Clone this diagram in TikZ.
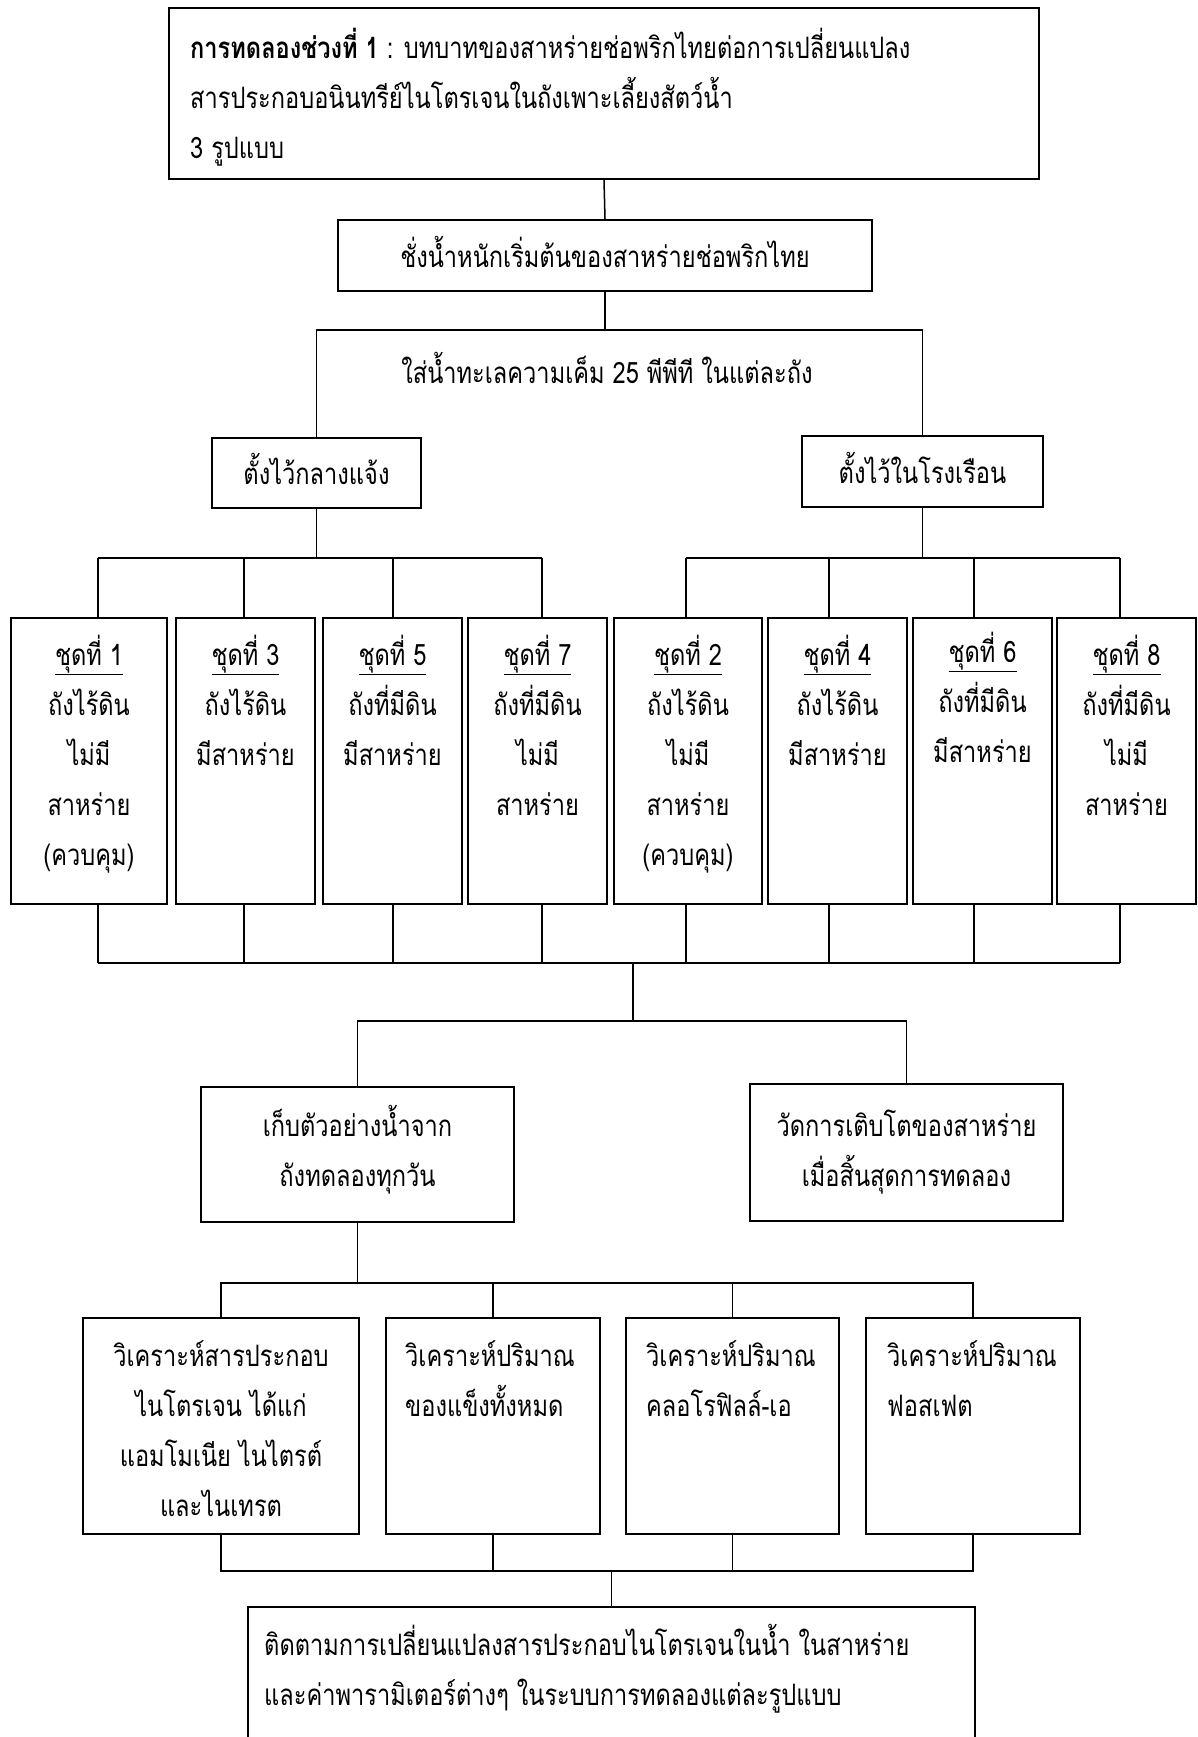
\documentclass[tikz,border=0pt]{standalone}
\usepackage{fontspec}
\newfontfamily\thaifont[Script=Thai, FakeStretch=0.8]{Loma}
\usetikzlibrary{calc}
\newcommand\fl{\rule{0pt}{36pt}}
\begin{document}
\begin{tikzpicture}[x=1pt,y=-1pt,
  box/.style={draw, line width=2.2pt, inner sep=0pt},
  conn/.style={line width=1.5pt},
  txt/.style={inner sep=0pt, align=center, font=\thaifont\fontsize{29.5}{50}\selectfont},
]
\useasboundingbox[fill=white] (0,0) rectangle (1198,1737);
% boxes
\node[box, minimum width=870pt, minimum height=171pt] (top) at (604,93.5) {};
\node[box, minimum width=534pt, minimum height=71pt] (wgt) at (605,255.5) {};
\node[box, minimum width=209pt, minimum height=70pt] (outL) at (316.5,473) {};
\node[box, minimum width=241pt, minimum height=71pt] (outR) at (922.5,471.5) {};
\foreach \n/\cx/\w in {s1/89/156, s3/245.5/139, s5/392.5/139, s7/537.5/139, s2/688/148, s4/837.5/139, s6/982.5/139, s8/1126.5/139}
  {\node[box, minimum width=\w pt, minimum height=286pt] (\n) at (\cx,761) {};}
\node[box, minimum width=313pt, minimum height=135pt] (smp) at (357.5,1154.5) {};
\node[box, minimum width=313pt, minimum height=137pt] (grw) at (906.5,1152.5) {};
\node[box, minimum width=276pt, minimum height=216pt] (aA) at (221,1426) {};
\node[box, minimum width=214pt, minimum height=216pt] (aB) at (493,1426) {};
\node[box, minimum width=213pt, minimum height=216pt] (aC) at (732.5,1426) {};
\node[box, minimum width=214pt, minimum height=216pt] (aD) at (973,1426) {};
\node[box, minimum width=727pt, minimum height=153pt] (fin) at (611.5,1683.5) {};
% texts
\node[txt, align=left, anchor=north west] (ttop) at (190,22) {\fl\textbf{การทดลองช่วงที่ 1} : บทบาทของสาหร่ายช่อพริกไทยต่อการเปลี่ยนแปลง\\สารประกอบอนินทรีย์ไนโตรเจนในถังเพาะเลี้ยงสัตว์น้ำ\\3 รูปแบบ};
\node[txt, anchor=north] (twgt) at (605,231) {\fl ชั่งน้ำหนักเริ่มต้นของสาหร่ายช่อพริกไทย};
\node[txt, anchor=north] (tsea) at (607,347) {\fl ใส่น้ำทะเลความเค็ม 25 พีพีที ในแต่ละถัง};
\node[txt, anchor=north] (toutL) at (316.5,448) {\fl ตั้งไว้กลางแจ้ง};
\node[txt, anchor=north] (toutR) at (922.5,447) {\fl ตั้งไว้ในโรงเรือน};
\node[txt, anchor=north] (ts1) at (89,629) {\fl\underline{ชุดที่ 1}\\ถังไร้ดิน\\ไม่มี\\สาหร่าย\\(ควบคุม)};
\node[txt, anchor=north] (ts3) at (245.5,629) {\fl\underline{ชุดที่ 3}\\ถังไร้ดิน\\มีสาหร่าย};
\node[txt, anchor=north] (ts5) at (392.5,629) {\fl\underline{ชุดที่ 5}\\ถังที่มีดิน\\มีสาหร่าย};
\node[txt, anchor=north] (ts7) at (537.5,629) {\fl\underline{ชุดที่ 7}\\ถังที่มีดิน\\ไม่มี\\สาหร่าย};
\node[txt, anchor=north] (ts2) at (688,629) {\fl\underline{ชุดที่ 2}\\ถังไร้ดิน\\ไม่มี\\สาหร่าย\\(ควบคุม)};
\node[txt, anchor=north] (ts4) at (837.5,629) {\fl\underline{ชุดที่ 4}\\ถังไร้ดิน\\มีสาหร่าย};
\node[txt, anchor=north] (ts6) at (982.5,626) {\fl\underline{ชุดที่ 6}\\ถังที่มีดิน\\มีสาหร่าย};
\node[txt, anchor=north] (ts8) at (1126.5,629) {\fl\underline{ชุดที่ 8}\\ถังที่มีดิน\\ไม่มี\\สาหร่าย};
\node[txt, anchor=north] (tsmp) at (357.5,1100) {\fl เก็บตัวอย่างน้ำจาก\\ถังทดลองทุกวัน};
\node[txt, anchor=north] (tgrw) at (906.5,1100) {\fl วัดการเติบโตของสาหร่าย\\เมื่อสิ้นสุดการทดลอง};
\node[txt, anchor=north] (taA) at (221,1330) {\fl วิเคราะห์สารประกอบ\\ไนโตรเจน ได้แก่\\แอมโมเนีย ไนไตรต์\\และไนเทรต};
\node[txt, align=left, anchor=north west] (taB) at (405,1330) {\fl วิเคราะห์ปริมาณ\\ของแข็งทั้งหมด};
\node[txt, align=left, anchor=north west] (taC) at (646,1330) {\fl วิเคราะห์ปริมาณ\\คลอโรฟิลล์-เอ};
\node[txt, align=left, anchor=north west] (taD) at (887,1330) {\fl วิเคราะห์ปริมาณ\\ฟอสเฟต};
\node[txt, align=left, anchor=north west] (tfin) at (264,1619) {\fl ติดตามการเปลี่ยนแปลงสารประกอบไนโตรเจนในน้ำ ในสาหร่าย\\และค่าพารามิเตอร์ต่างๆ ในระบบการทดลองแต่ละรูปแบบ};
% connectors
\coordinate (busA) at (0,330);
\coordinate (busB) at (0,558);
\coordinate (busC) at (0,963);
\coordinate (hub) at (633,963);
\coordinate (hub2) at (633,1021);
\coordinate (busE) at (0,1283);
\coordinate (busF) at (0,1571);
\draw[conn] (top.south) -- (wgt.north);
\draw[conn] (wgt.south) -- (wgt.south |- busA);
\draw[conn] (outL.north) -- (outL.north |- busA) -- (outR.north |- busA) -- (outR.north);
\draw[conn] (outL.south) -- (outL.south |- busB);
\draw[conn] (outR.south) -- (outR.south |- busB);
\foreach \n/\o in {s1/9,s3/-1.5,s5/0.5,s7/4.5,s2/-2,s4/-8.5,s6/-8.5,s8/-6.5}{
  \draw[conn] ([xshift=\o pt]\n.north) -- ([xshift=\o pt]\n.north |- busB);
  \draw[conn] ([xshift=\o pt]\n.south) -- ([xshift=\o pt]\n.south |- busC);
}
\draw[conn] ([xshift=9pt]s1.north |- busB) -- ([xshift=4.5pt]s7.north |- busB);
\draw[conn] ([xshift=-2pt]s2.north |- busB) -- ([xshift=-6.5pt]s8.north |- busB);
\draw[conn] ([xshift=9pt]s1.south |- busC) -- ([xshift=-6.5pt]s8.south |- busC);
\draw[conn] (hub) -- (hub2);
\draw[conn] (smp.north) -- (smp.north |- hub2) -- (grw.north |- hub2) -- (grw.north);
\draw[conn] (smp.south) -- (smp.south |- busE);
\draw[conn] (aA.north) -- (aA.north |- busE) -- (aD.north |- busE) -- (aD.north);
\draw[conn] (aB.north) -- (aB.north |- busE);
\draw[conn] (aC.north) -- (aC.north |- busE);
\draw[conn] (aA.south) -- (aA.south |- busF) -- (aD.south |- busF) -- (aD.south);
\draw[conn] (aB.south) -- (aB.south |- busF);
\draw[conn] (aC.south) -- (aC.south |- busF);
\draw[conn] (fin.north) -- (fin.north |- busF);
\end{tikzpicture}
\end{document}
